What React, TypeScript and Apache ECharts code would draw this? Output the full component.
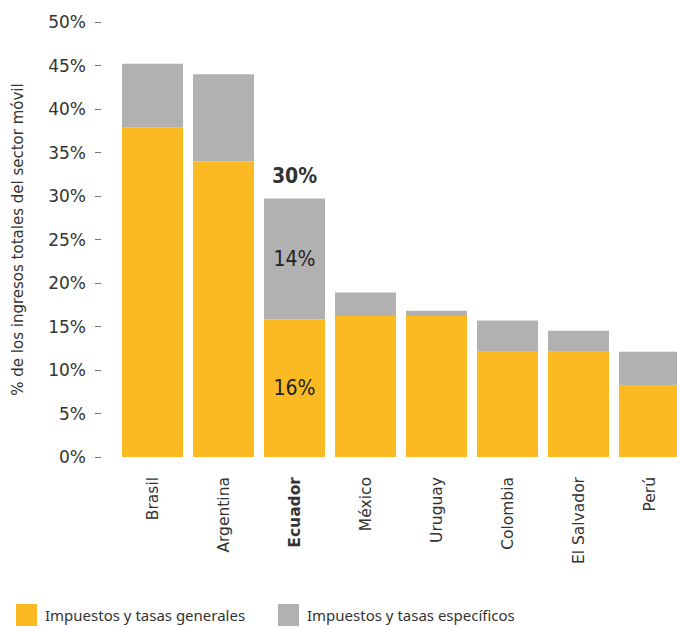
import React, { useEffect, useRef } from "react";
import * as echarts from "echarts";

const categories = ["Brasil", "Argentina", "Ecuador", "México", "Uruguay", "Colombia", "El Salvador", "Perú"];
const generales = [37.9, 34.0, 15.8, 16.2, 16.2, 12.1, 12.1, 8.2];
const especificos = [7.3, 10.0, 13.9, 2.7, 0.6, 3.6, 2.4, 3.9];
const yTicks = [0, 5, 10, 15, 20, 25, 30, 35, 40, 45, 50];
const highlight = "Ecuador";
const highlightLabels = { generales: "16%", especificos: "14%", total: "30%" };
const seriesNames = ["Impuestos y tasas generales", "Impuestos y tasas específicos"];

const YELLOW = "#FBBA22";
const GRAY = "#B1B1B1";
const FONT = "'DejaVu Sans', sans-serif";
const LEG = "'Noto Sans', sans-serif";
const NARROW = "'Liberation Sans Narrow', 'DejaVu Sans Condensed', 'Noto Sans', sans-serif";

export default function App() {
  const ref = useRef<HTMLDivElement>(null);
  useEffect(() => {
    const chart = echarts.init(ref.current!, null, { renderer: "svg" });
    const hi = categories.indexOf(highlight);
    const insideLabel = (text: string) => ({
      show: true,
      position: "inside",
      formatter: text,
      fontFamily: NARROW,
      fontSize: 21,
      color: "#222",
    });
    const legendCommon = {
      top: 604,
      padding: 0,
      itemWidth: 21,
      itemHeight: 22,
      icon: "rect",
      textStyle: { fontFamily: LEG, fontSize: 15, color: "#333", padding: [0, 0, 0, 3] },
    };
    chart.setOption({
      animation: false,
      grid: { left: 117, right: -8, top: 22, bottom: 171, containLabel: false, outerBoundsMode: "none" },
      legend: [
        { ...legendCommon, left: 16, data: [seriesNames[0]] },
        { ...legendCommon, left: 278, data: [seriesNames[1]] },
      ],
      xAxis: {
        type: "category",
        data: categories,
        axisLine: { show: false },
        axisTick: { show: false },
        axisLabel: {
          rotate: 90,
          margin: 20,
          fontFamily: FONT,
          fontSize: 15.5,
          color: "#333",
          formatter: (v: string) => (v === highlight ? "{b|" + v + "}" : v),
          rich: { b: { fontWeight: "bold", fontFamily: FONT, fontSize: 15.5, color: "#333" } },
        },
      },
      yAxis: {
        type: "value",
        min: 0,
        max: 50,
        interval: 5,
        offset: 16,
        name: "% de los ingresos totales del sector móvil",
        nameLocation: "middle",
        nameGap: 76,
        nameTextStyle: { fontFamily: FONT, fontSize: 15, color: "#333" },
        splitLine: { show: false },
        axisLine: { show: false },
        axisTick: { show: true, length: 6, lineStyle: { color: "#777" } },
        axisLabel: {
          margin: 15,
          fontFamily: FONT,
          fontSize: 17,
          color: "#333",
          formatter: (v: number) => (yTicks.includes(v) ? v + "%" : ""),
        },
      },
      series: [
        {
          name: seriesNames[0],
          type: "bar",
          stack: "s",
          barCategoryGap: "14%",
          itemStyle: { color: YELLOW },
          data: generales.map((v, i) =>
            i === hi ? { value: v, label: insideLabel(highlightLabels.generales) } : v
          ),
        },
        {
          name: seriesNames[1],
          type: "bar",
          stack: "s",
          itemStyle: { color: GRAY },
          data: especificos.map((v, i) =>
            i === hi ? { value: v, label: insideLabel(highlightLabels.especificos) } : v
          ),
        },
        {
          name: "total",
          type: "bar",
          stack: "s",
          itemStyle: { color: "transparent" },
          data: categories.map((_, i) =>
            i === hi
              ? {
                  value: 0,
                  label: {
                    show: true,
                    position: "top",
                    distance: 12,
                    formatter: highlightLabels.total,
                    fontFamily: NARROW,
                    fontWeight: "bold",
                    fontSize: 21,
                    color: "#333",
                  },
                }
              : "-"
          ),
        },
      ],
    });
    return () => chart.dispose();
  }, []);
  return (
    <div
      ref={ref}
      style={{ position: "absolute", left: 0, top: 0, width: 677, height: 628 }}
    />
  );
}
